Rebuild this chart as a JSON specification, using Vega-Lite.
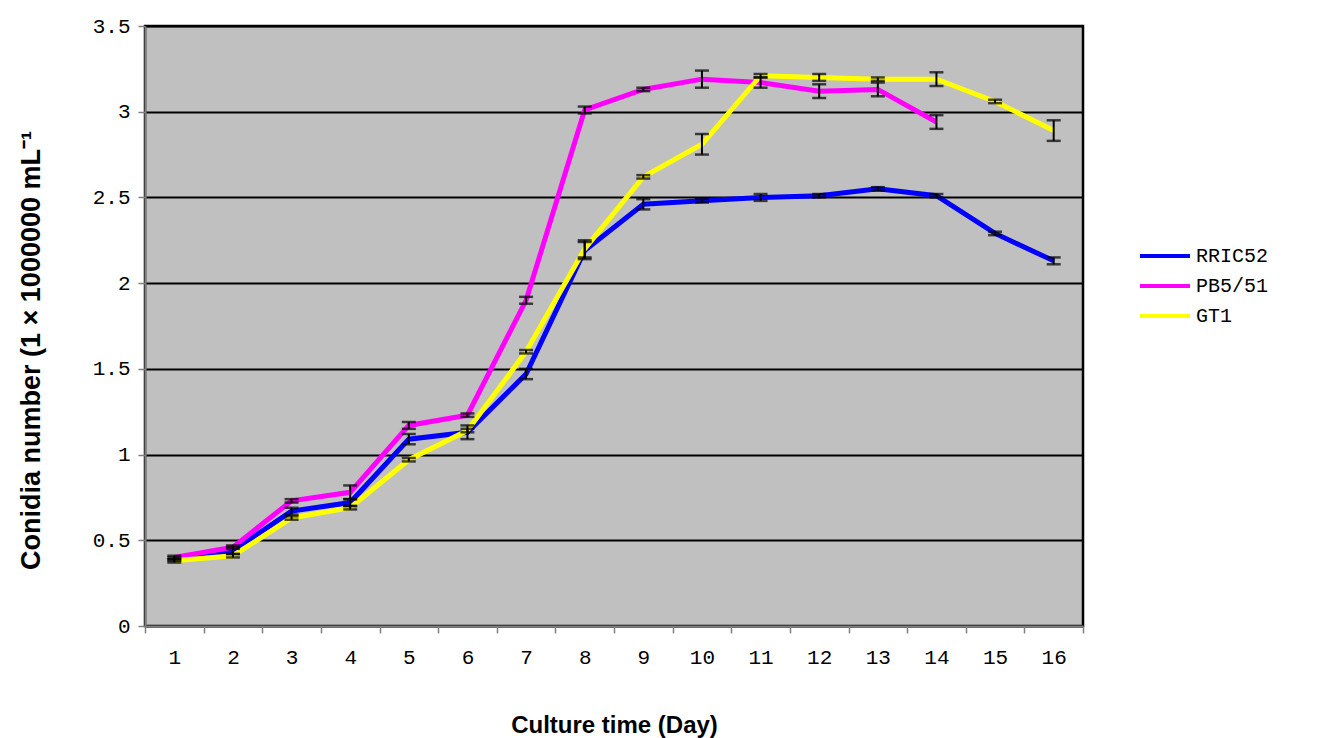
{
  "$schema": "https://vega.github.io/schema/vega-lite/v6.json",
  "width": 938,
  "height": 600,
  "autosize": {"type": "none"},
  "padding": {"left": 145, "top": 26, "right": 247, "bottom": 112},
  "background": "white",
  "config": {
    "view": {"fill": "#C0C0C0", "stroke": "#000000", "strokeWidth": 2.5}
  },
  "data": {
    "values": [
      {"day": 1, "strain": "RRIC52", "value": 0.39, "lo": 0.38, "hi": 0.40},
      {"day": 2, "strain": "RRIC52", "value": 0.44, "lo": 0.42, "hi": 0.46},
      {"day": 3, "strain": "RRIC52", "value": 0.67, "lo": 0.65, "hi": 0.69},
      {"day": 4, "strain": "RRIC52", "value": 0.72, "lo": 0.70, "hi": 0.74},
      {"day": 5, "strain": "RRIC52", "value": 1.09, "lo": 1.06, "hi": 1.12},
      {"day": 6, "strain": "RRIC52", "value": 1.13, "lo": 1.09, "hi": 1.17},
      {"day": 7, "strain": "RRIC52", "value": 1.47, "lo": 1.44, "hi": 1.50},
      {"day": 8, "strain": "RRIC52", "value": 2.19, "lo": 2.14, "hi": 2.24},
      {"day": 9, "strain": "RRIC52", "value": 2.46, "lo": 2.43, "hi": 2.49},
      {"day": 10, "strain": "RRIC52", "value": 2.48, "lo": 2.47, "hi": 2.49},
      {"day": 11, "strain": "RRIC52", "value": 2.50, "lo": 2.48, "hi": 2.52},
      {"day": 12, "strain": "RRIC52", "value": 2.51, "lo": 2.50, "hi": 2.52},
      {"day": 13, "strain": "RRIC52", "value": 2.55, "lo": 2.54, "hi": 2.56},
      {"day": 14, "strain": "RRIC52", "value": 2.51, "lo": 2.50, "hi": 2.52},
      {"day": 15, "strain": "RRIC52", "value": 2.29, "lo": 2.28, "hi": 2.30},
      {"day": 16, "strain": "RRIC52", "value": 2.13, "lo": 2.11, "hi": 2.15},
      {"day": 1, "strain": "PB5/51", "value": 0.40, "lo": 0.39, "hi": 0.41},
      {"day": 2, "strain": "PB5/51", "value": 0.46, "lo": 0.45, "hi": 0.47},
      {"day": 3, "strain": "PB5/51", "value": 0.73, "lo": 0.72, "hi": 0.74},
      {"day": 4, "strain": "PB5/51", "value": 0.78, "lo": 0.74, "hi": 0.82},
      {"day": 5, "strain": "PB5/51", "value": 1.17, "lo": 1.15, "hi": 1.19},
      {"day": 6, "strain": "PB5/51", "value": 1.23, "lo": 1.22, "hi": 1.24},
      {"day": 7, "strain": "PB5/51", "value": 1.90, "lo": 1.88, "hi": 1.92},
      {"day": 8, "strain": "PB5/51", "value": 3.01, "lo": 2.99, "hi": 3.03},
      {"day": 9, "strain": "PB5/51", "value": 3.13, "lo": 3.12, "hi": 3.14},
      {"day": 10, "strain": "PB5/51", "value": 3.19, "lo": 3.14, "hi": 3.24},
      {"day": 11, "strain": "PB5/51", "value": 3.17, "lo": 3.14, "hi": 3.20},
      {"day": 12, "strain": "PB5/51", "value": 3.12, "lo": 3.08, "hi": 3.16},
      {"day": 13, "strain": "PB5/51", "value": 3.13, "lo": 3.09, "hi": 3.17},
      {"day": 14, "strain": "PB5/51", "value": 2.94, "lo": 2.90, "hi": 2.98},
      {"day": 1, "strain": "GT1", "value": 0.38, "lo": 0.37, "hi": 0.39},
      {"day": 2, "strain": "GT1", "value": 0.41, "lo": 0.40, "hi": 0.42},
      {"day": 3, "strain": "GT1", "value": 0.63, "lo": 0.62, "hi": 0.64},
      {"day": 4, "strain": "GT1", "value": 0.69, "lo": 0.68, "hi": 0.70},
      {"day": 5, "strain": "GT1", "value": 0.97, "lo": 0.96, "hi": 0.98},
      {"day": 6, "strain": "GT1", "value": 1.14, "lo": 1.13, "hi": 1.15},
      {"day": 7, "strain": "GT1", "value": 1.60, "lo": 1.59, "hi": 1.61},
      {"day": 8, "strain": "GT1", "value": 2.20, "lo": 2.15, "hi": 2.25},
      {"day": 9, "strain": "GT1", "value": 2.62, "lo": 2.61, "hi": 2.63},
      {"day": 10, "strain": "GT1", "value": 2.81, "lo": 2.75, "hi": 2.87},
      {"day": 11, "strain": "GT1", "value": 3.21, "lo": 3.20, "hi": 3.22},
      {"day": 12, "strain": "GT1", "value": 3.20, "lo": 3.18, "hi": 3.22},
      {"day": 13, "strain": "GT1", "value": 3.19, "lo": 3.18, "hi": 3.20},
      {"day": 14, "strain": "GT1", "value": 3.19, "lo": 3.15, "hi": 3.23},
      {"day": 15, "strain": "GT1", "value": 3.06, "lo": 3.05, "hi": 3.07},
      {"day": 16, "strain": "GT1", "value": 2.89, "lo": 2.83, "hi": 2.95}
    ]
  },
  "encoding": {
    "x": {
      "field": "day",
      "type": "ordinal",
      "bandPosition": 0.5,
      "scale": {"type": "band", "paddingInner": 0, "paddingOuter": 0},
      "axis": {
        "title": "Culture time (Day)",
        "titleFont": "Liberation Sans",
        "titleFontWeight": "bold",
        "titleFontSize": 24,
        "titleColor": "#000000",
        "titleY": 99,
        "titleBaseline": "middle",
        "labelAngle": 0,
        "labelFont": "Liberation Mono",
        "labelFontSize": 21,
        "labelColor": "#000000",
        "labelPadding": 13,
        "tickBand": "extent",
        "tickColor": "#808080",
        "tickSize": 7,
        "tickWidth": 1.5,
        "domainColor": "#808080",
        "domainWidth": 2,
        "grid": false
      }
    }
  },
  "layer": [
    {
      "mark": {"type": "line", "strokeWidth": 5, "interpolate": "linear"},
      "encoding": {
        "y": {
          "field": "value",
          "type": "quantitative",
          "scale": {"domain": [0, 3.5], "nice": false},
          "axis": {
            "values": [0, 0.5, 1, 1.5, 2, 2.5, 3, 3.5],
            "labelExpr": "datum.value === 0 ? '0' : format(datum.value, '.1~f')",
            "title": "Conidia number (1 × 1000000 mL⁻¹",
            "titleFont": "Liberation Sans",
            "titleFontWeight": "bold",
            "titleFontSize": 27,
            "titleColor": "#000000",
            "titleAngle": -90,
            "titleX": -114,
            "titleY": 324,
            "titleAlign": "center",
            "titleBaseline": "middle",
            "labelFont": "Liberation Mono",
            "labelFontSize": 21,
            "labelColor": "#000000",
            "labelPadding": 8,
            "tickColor": "#808080",
            "tickSize": 7,
            "tickWidth": 1.5,
            "domainColor": "#808080",
            "domainWidth": 2,
            "grid": true,
            "gridColor": "#000000",
            "gridWidth": 2,
            "gridOpacity": 1
          }
        },
        "color": {
          "field": "strain",
          "type": "nominal",
          "scale": {
            "domain": ["RRIC52", "PB5/51", "GT1"],
            "range": ["#0000FF", "#FF00FF", "#FFFF00"]
          },
          "legend": {
            "title": null,
            "orient": "none",
            "legendX": 993,
            "legendY": 215,
            "symbolType": "stroke",
            "symbolSize": 2500,
            "symbolStrokeWidth": 4,
            "clipHeight": 30,
            "rowPadding": 0,
            "labelFont": "Liberation Mono",
            "labelFontSize": 20,
            "labelColor": "#000000",
            "labelOffset": 4
          }
        }
      }
    },
    {
      "mark": {"type": "rule", "color": "#000000", "strokeWidth": 2},
      "encoding": {
        "y": {"field": "lo", "type": "quantitative"},
        "y2": {"field": "hi"}
      }
    },
    {
      "mark": {"type": "tick", "color": "#000000", "thickness": 2.5, "size": 14, "orient": "horizontal"},
      "encoding": {"y": {"field": "lo", "type": "quantitative"}}
    },
    {
      "mark": {"type": "tick", "color": "#000000", "thickness": 2.5, "size": 14, "orient": "horizontal"},
      "encoding": {"y": {"field": "hi", "type": "quantitative"}}
    }
  ]
}
